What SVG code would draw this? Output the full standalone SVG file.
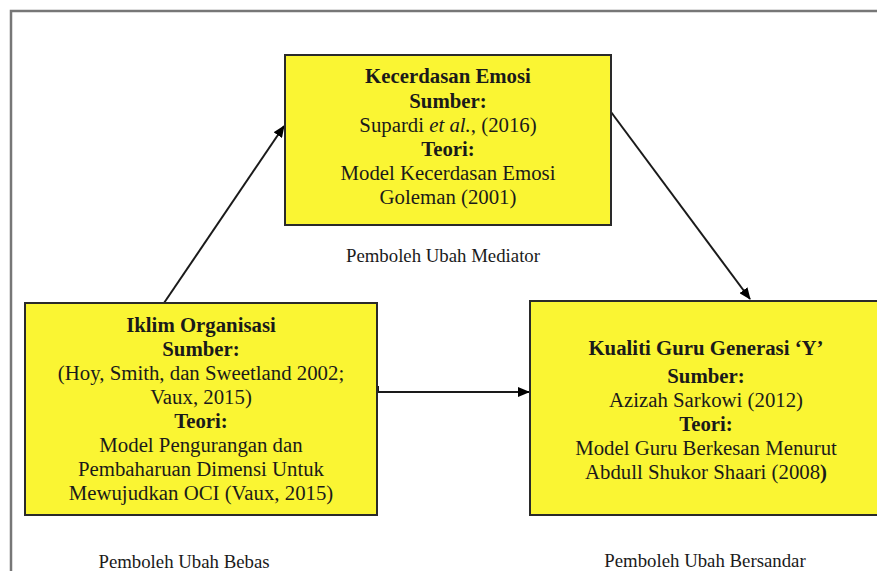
<svg xmlns="http://www.w3.org/2000/svg" width="877" height="571" viewBox="0 0 877 571">
<style>
.box{fill:#FAF533;stroke:#2a2a2a;stroke-width:2}
.t{font-family:"Liberation Serif","Times New Roman",serif;font-size:20.8px;fill:#1a1a1a;text-anchor:middle}
.b{font-weight:bold}
.cap{font-family:"Liberation Serif","Times New Roman",serif;font-size:18.8px;fill:#1a1a1a;text-anchor:middle}
.conn{fill:none;stroke:#1a1a1a;stroke-width:2}
</style>
<defs>
<marker id="ah" viewBox="0 0 12 10" refX="11" refY="5" markerWidth="12" markerHeight="10" markerUnits="userSpaceOnUse" orient="auto">
<path d="M0,0 L12,5 L0,10 z" fill="#000"/>
</marker>
</defs>
<rect width="877" height="571" fill="#fff"/>
<polyline points="11,571 11,11 877,11" fill="none" stroke="#777" stroke-width="2.5"/>
<g id="connectors">
<line class="conn" x1="164" y1="303" x2="284" y2="126" marker-end="url(#ah)"/>
<line class="conn" x1="611" y1="112" x2="750" y2="299" marker-end="url(#ah)"/>
<path class="conn" d="M378,386 V392 H529" stroke="#444" marker-end="url(#ah)"/>
</g>
<g id="node-kecerdasan">
<rect class="box" x="285" y="55" width="326" height="170"/>
<text class="t b" x="448" y="83">Kecerdasan Emosi</text>
<text class="t b" x="448" y="108">Sumber:</text>
<text class="t" x="448" y="132">Supardi <tspan font-style="italic">et al.</tspan>, (2016)</text>
<text class="t b" x="448" y="156">Teori:</text>
<text class="t" x="448" y="180">Model Kecerdasan Emosi</text>
<text class="t" x="448" y="204">Goleman (2001)</text>
</g>
<text class="cap" x="443" y="262">Pemboleh Ubah Mediator</text>
<g id="node-iklim">
<rect class="box" x="25" y="303" width="352" height="212"/>
<text class="t b" x="201" y="332">Iklim Organisasi</text>
<text class="t b" x="201" y="356">Sumber:</text>
<text class="t" x="201" y="380">(Hoy, Smith, dan Sweetland 2002;</text>
<text class="t" x="201" y="404">Vaux, 2015)</text>
<text class="t b" x="201" y="428">Teori:</text>
<text class="t" x="201" y="452">Model Pengurangan dan</text>
<text class="t" x="201" y="476">Pembaharuan Dimensi Untuk</text>
<text class="t" x="201" y="500">Mewujudkan OCI (Vaux, 2015)</text>
</g>
<text class="cap" x="184" y="568">Pemboleh Ubah Bebas</text>
<g id="node-kualiti">
<rect class="box" x="530" y="301" width="352" height="214"/>
<text class="t b" x="706" y="355">Kualiti Guru Generasi ‘Y’</text>
<text class="t b" x="706" y="383">Sumber:</text>
<text class="t" x="706" y="407">Azizah Sarkowi (2012)</text>
<text class="t b" x="706" y="431">Teori:</text>
<text class="t" x="706" y="455">Model Guru Berkesan Menurut</text>
<text class="t" x="706" y="479">Abdull Shukor Shaari (2008<tspan font-weight="bold">)</tspan></text>
</g>
<text class="cap" x="705" y="567">Pemboleh Ubah Bersandar</text>
</svg>
